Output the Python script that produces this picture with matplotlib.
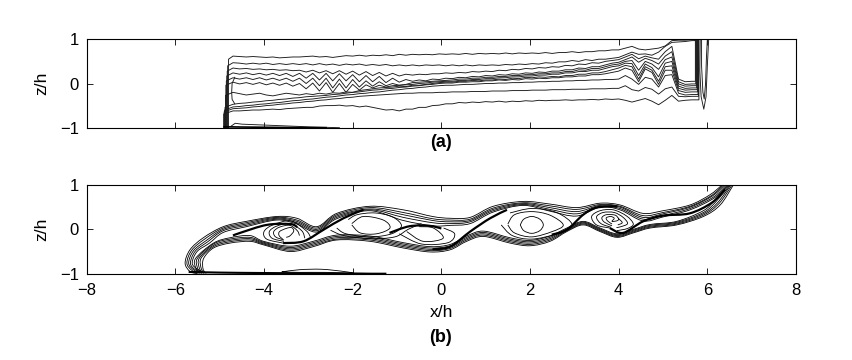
import matplotlib
matplotlib.use("Agg")
import matplotlib.pyplot as plt
import numpy as np
from matplotlib.path import Path
from matplotlib.patches import PathPatch

plt.rcParams['font.family'] = ['Liberation Sans', 'DejaVu Sans']

xticks = [-8, -6, -4, -2, 0, 2, 4, 6, 8]
zticks = [-1, 0, 1]

# Panel (a): contour heights in hundredths of h, read at x = -4.7, -4.55, ... 5.65
a_x = np.linspace(-4.7, 5.65, 70)
a1 = [62,61,60,61,60,59,60,58,59,60, 60,61,62,60,61,59,61,63,62,64, 62,64,63,65,63,66,64,66,65,66,
      65,67,66,67,66,68,66,68,67,68, 67,69,67,69,68,69,68,70,68,70, 70,72,70,72,72,74,74,76,
      76,80,84,78,76,78,80,85,97,98,98,99]
a2 = [47,46,44,46,44,46,43,45,43,45, 43,45,42,45,42,44,41,44,42,44, 41,43,41,43,40,42,40,42,40,42,
      41,42,40,42,40,42,40,42,41,42, 41,43,42,44,43,45,44,47,46,49, 49,52,50,54,52,55,55,57,
      59,65,71,66,67,64,71,84,93,94,95,97]
a3 = [35,33,34,32,33,31,32,30,31,29, 30,26,30,24,29,22,29,21,28,19, 27,18,25,17,23,17,21,19,21,20,
      22,22,24,23,25,24,27,26,28,27, 30,29,32,31,34,33,36,35,38,37, 41,40,44,43,47,46,50,52,
      54,60,66,56,62,58,55,72,84,10,4,5]
a4 = [24,21,24,20,23,19,23,18,23,16, 23,12,23,8,23,6,22,6,20,4, 18,4,16,2,12,3,9,5,8,6,
      10,9,12,11,14,13,16,15,18,17, 20,19,22,21,24,23,26,25,28,28, 31,31,35,34,38,38,42,46,
      48,54,60,48,57,52,44,62,72,4,-2,-1]
a5 = [13,10,13,9,13,8,12,7,12,5, 12,0,12,-5,12,-10,10,-10,9,-8, 6,-6,4,-5,0,-4,-2,2,3,4,
      5,6,7,8,10,10,12,12,14,14, 16,16,18,18,20,20,22,22,24,24, 27,27,31,30,34,34,38,42,
      44,50,52,30,50,44,32,54,60,-1,-6,-5]
a6 = [3,-1,2,-2,2,-3,1,-4,1,-6, 0,-12,1,-17,2,-20,0,-20,-2,-15, -3,-10,-4,-8,-5,-4,-3,-2,0,1,
      3,4,5,5,7,7,9,9,11,11, 13,13,15,15,17,17,19,19,21,21, 24,24,27,27,30,30,34,38,
      40,46,45,18,44,36,15,46,50,-6,-11,-10]
a7 = [-20,-23,-26,-24,-22,-26,-28,-25,-22,-24, -26,-23,-25,-22,-24,-21,-22,-19,-20,-16, -14,-12,-10,-9,-8,-6,-7,-4,-4,-2,
      0,2,3,3,5,5,7,6,8,8, 10,9,12,11,14,13,15,14,16,15, 18,18,21,21,24,24,27,31,
      35,41,38,10,38,30,5,38,40,-11,-15,-14]
a8 = [-47,-45,-44,-42,-41,-39,-38,-36,-35,-33, -32,-30,-29,-28,-27,-25,-24,-22,-20,-19, -17,-15,-14,-12,-11,-9,-8,-6,-5,-3,
      -2,0,1,1,3,3,4,4,6,6, 8,7,9,8,11,10,12,11,13,13, 15,15,17,17,20,20,22,25,
      28,35,30,4,33,25,-2,30,30,-16,-20,-19]
a9 = [-53,-52,-50,-49,-47,-46,-44,-43,-41,-39, -38,-36,-35,-33,-31,-30,-28,-26,-25,-23, -22,-20,-19,-17,-15,-14,-12,-11,-9,-8,
      -6,-5,-4,-4,-3,-2,-2,-1,0,0, 1,1,2,2,3,3,4,4,5,5, 6,6,7,7,8,8,9,9,
      10,18,10,-2,14,10,-8,18,20,-22,-26,-25]
a10 = [-57,-56,-55,-53,-52,-50,-49,-47,-46,-44, -43,-41,-40,-38,-37,-35,-34,-32,-31,-29, -28,-27,-26,-25,-24,-23,-22,-22,-21,-21,
       -21,-20,-20,-19,-19,-19,-18,-18,-18,-17, -17,-17,-16,-16,-16,-15,-15,-15,-14,-14, -14,-13,-13,-13,-12,-12,-12,-11,
       -11,-5,-14,-17,-9,-13,-24,-12,-8,-29,-30,-29]
a11 = [-62,-62,-61,-60,-60,-59,-58,-59,-57,-56, -55,-54,-54,-51,-50,-50,-49,-51,-50,-53, -51,-54,-57,-60,-59,-62,-58,-58,-54,-54,
       -50,-49,-46,-46,-43,-44,-42,-43,-41,-42, -40,-42,-40,-41,-39,-40,-38,-39,-38,-38, -37,-38,-37,-37,-36,-37,-35,-36,
       -35,-38,-42,-38,-34,-40,-48,-38,-27,-40,-38,-37]
a_lines = [a1, a2, a3, a4, a5, a6, a7, a8, a9, a10, a11]
a_left_wall = [-4.80, -4.82, -4.83, -4.84, -4.85, -4.86, -4.87, -4.88, -4.89, -4.90, -4.91]
a_right_wall = [5.70, 5.72, 5.73, 5.74, 5.75, 5.76, 5.77, 5.78, 5.79, 5.80, 5.81]

a_loop1_x = [5.84, 5.83, 5.86, 5.92, 5.97, 6.00, 6.03]
a_loop1_z = [1.0, 0.3, -0.3, -0.58, -0.3, 0.4, 1.0]
a_loop2_x = [5.87, 5.87, 5.90, 5.93, 5.96, 5.98, 6.00]
a_loop2_z = [1.0, 0.4, -0.2, -0.35, 0.0, 0.6, 1.0]
a_inner_x = [-4.66, -4.72, -4.73, -4.72, -4.66]
a_inner_z = [0.14, 0.0, -0.2, -0.36, -0.46]
a_floor_x = [-4.9, -4.5, -4.0, -3.5, -3.0, -2.6]
a_floor_z = [-0.98, -0.985, -0.99, -0.995, -1.0, -1.0]
a_low_x = [-4.75, -4.65, -4.5, -4.0, -3.0, -2.3]
a_low_z = [-0.97, -0.9, -0.92, -0.94, -0.98, -1.0]

# Panel (b): upper family of the band, from the floor round the left tip to the top edge
t_knots = [-4.92, -4.4, -3.71, -3.26, -2.81, -2.36, -1.61, -0.86, -0.2, 0.2, 0.65, 1.17,
           1.85, 2.45, 3.05, 3.58, 4.03, 4.55, 5.0, 5.61]
t1_x = [-5.5, -5.67, -5.78, -5.67, -5.37, *t_knots, 6.06, 6.32]
t1_z = [-1.0, -0.95, -0.76, -0.46, -0.19, .06,.18,.29,.25,.06,.36,.52,.44,.29,.25,.27,.52,.63,.57,.49,.59,.55,.36,.42,.55, .78, .99]
t2_x = [-5.45, -5.62, -5.74, -5.63, -5.34, *t_knots, 6.09, 6.35]
t2_z = [-0.99, -0.93, -0.76, -0.47, -0.22, .03,.15,.27,.21,.03,.33,.49,.38,.24,.21,.23,.48,.6,.53,.45,.56,.52,.31,.38,.52, .76, .99]
t3_x = [-5.4, -5.58, -5.7, -5.59, -5.3, *t_knots, 6.11, 6.38]
t3_z = [-0.99, -0.92, -0.76, -0.48, -0.25, 0,.12,.25,.18,0,.3,.46,.33,.2,.17,.2,.45,.58,.49,.4,.54,.5,.27,.35,.5, .75, .99]
t4_x = [-5.35, -5.55, -5.66, -5.55, -5.27, *t_knots, 6.14, 6.42]
t4_z = [-0.99, -0.91, -0.76, -0.49, -0.28, -.03,.09,.23,.15,-.03,.27,.44,.27,.15,.13,.17,.42,.56,.45,.35,.52,.47,.23,.31,.47, .73, .99]
t5_x = [-5.3, -5.5, -5.62, -5.51, -5.23, *t_knots, 6.16, 6.45]
t5_z = [-0.99, -0.9, -0.76, -0.5, -0.31, -.07,.06,.21,.12,-.06,.24,.42,.2,.08,.09,.13,.39,.54,.41,.3,.5,.44,.19,.28,.44, .71, .99]

# Lower family of the band
b_knots = [-5.14, -4.77, -4.32, -4.01, -3.41, -2.89, -2.36, -1.61, -0.86, -0.25, 0.2, 0.57,
           0.95, 1.55, 2.0, 2.45, 2.83, 3.2, 3.58, 3.96, 4.33, 4.71, 5.31, 5.91]
b1_x = [-5.33, -5.38, -5.36, *b_knots, 6.29, 6.58]
b1_z = [-.98, -.87, -.65, -.42,-.31,-.27,-.35,-.5,-.39,-.24,-.27,-.42,-.51,-.46,-.27,-.16,-.31,-.37,-.27,-.05,.1,-.05,-.18,-.08,.03,.1,.29, .55, .99]
b2_x = [-5.36, -5.42, -5.42, *b_knots, 6.26, 6.55]
b2_z = [-.98, -.87, -.65, -.39,-.28,-.24,-.33,-.47,-.36,-.22,-.24,-.39,-.48,-.43,-.24,-.13,-.28,-.34,-.24,-.03,.12,-.03,-.16,-.06,.05,.12,.32, .58, .99]
b3_x = [-5.39, -5.46, -5.46, *b_knots, 6.23, 6.52]
b3_z = [-.98, -.87, -.65, -.36,-.25,-.21,-.31,-.44,-.33,-.19,-.21,-.36,-.45,-.4,-.21,-.1,-.25,-.31,-.21,-.01,.14,-.01,-.14,-.04,.07,.14,.35, .6, .99]
b4_x = [-5.42, -5.5, -5.5, *b_knots, 6.2, 6.5]
b4_z = [-.98, -.87, -.65, -.33,-.22,-.18,-.29,-.41,-.3,-.16,-.18,-.33,-.42,-.37,-.18,-.07,-.22,-.28,-.18,.01,.16,.01,-.12,-.02,.09,.16,.38, .63, .99]
b5_x = [-5.45, -5.54, -5.54, *b_knots, 6.17, 6.48]
b5_z = [-.98, -.87, -.65, -.31,-.19,-.14,-.27,-.38,-.27,-.13,-.15,-.3,-.39,-.34,-.15,-.04,-.19,-.25,-.15,.03,.18,.03,-.1,0,.11,.18,.42, .66, .99]

# Spirals and closed contours around the vortices
s1a_x = [-3.57, -3.94, -4.0, -3.8, -3.4, -3.05, -2.95]
s1a_z = [-.31, -.22, -.05, .1, .19, -.03, -.18]
s1b_x = [-3.55, -3.82, -3.88, -3.72, -3.42, -3.15, -3.08]
s1b_z = [-.27, -.2, -.05, .07, .13, -.03, -.2]
s1c_x = [-3.55, -3.74, -3.78, -3.65, -3.42, -3.25, -3.2]
s1c_z = [-.24, -.17, -.05, .05, .09, -.03, -.14]
s1d_x = [-3.58, -3.66, -3.65, -3.5, -3.38, -3.33, -3.42, -3.5]
s1d_z = [-.22, -.14, -.05, .02, .04, -.04, -.15, -.18]
v2a_x = [-2.5, -2.2, -1.61, -1.05, -0.75, -0.45]
v2a_z = [-.02, -.14, -.21, -.17, 0.0, .13]
v2b_x = [-2.36, -2.15, -1.61, -1.12, -0.9, -1.1, -1.5, -1.9, -2.1]
v2b_z = [.03, -.1, -.17, -.1, .08, .28, .37, .33, .22]
v2c_x = [-2.02, -1.83, -1.46, -1.16, -1.31, -1.76, -2.02]
v2c_z = [.1, -.08, -.1, .03, .21, .29, .13]
v3a_x = [-0.78, -0.41, 0.04, -0.18, -0.5]
v3a_z = [-.05, -.27, -.2, .03, .06]
v3b_x = [-0.95, -0.45, 0.15, 0.3, 0.05]
v3b_z = [-.1, -.33, -.3, -.1, .03]
v4a_x = [1.78, 1.86, 2.04, 2.22, 2.3, 2.22, 2.04, 1.86, 1.78]
v4a_z = [.1, -.03, -.09, -.03, .1, .23, .29, .23, .1]
v4b_x = [1.5, 1.65, 2.04, 2.5, 2.75, 2.45, 2.04, 1.65, 1.5]
v4b_z = [.1, -.08, -.17, -.05, .1, .32, .4, .33, .12]
v4c_x = [1.35, 1.6, 2.04, 2.6, 2.95, 2.6, 2.04, 1.55]
v4c_z = [.1, -.14, -.22, -.1, .1, .38, .47, .37]
s5a_x = [3.8, 3.5, 3.39, 3.58, 3.88, 4.18, 4.33, 4.2, 3.96]
s5a_z = [.03, .1, .29, .42, .44, .3, .12, .02, -.03]
s5b_x = [3.82, 3.6, 3.5, 3.65, 3.9, 4.1, 4.2, 4.05, 3.95]
s5b_z = [.05, .13, .28, .38, .38, .27, .13, .06, .04]
s5c_x = [3.85, 3.68, 3.62, 3.72, 3.92, 4.0, 4.08, 3.98]
s5c_z = [.08, .16, .26, .33, .32, .24, .15, .1]
s5d_x = [3.85, 3.75, 3.72, 3.82, 3.9, 3.85, 3.98, 4.0]
s5d_z = [.12, .19, .26, .29, .25, .18, .2, .26]

# Dark braids between the vortices
br1_x = [-4.7, -4.54, -3.94, -3.41, -3.25]
br1_z = [-.14, -.08, .1, .12, .05]
br2_x = [-3.57, -3.11, -2.66, -2.21, -1.76]
br2_z = [-.31, -.27, -.01, .25, .44]
br3_x = [-1.17, -0.72, -0.27, 0.0]
br3_z = [-.08, .07, .08, .02]
br4_x = [-0.2, 0.2, 0.65, 1.1, 1.48]
br4_z = [-.45, -.39, -.05, .25, .44]
br5_x = [2.49, 2.83, 3.2, 3.5, 3.96]
br5_z = [-.12, -.01, .33, .49, .52]
br6_x = [3.8, 4.1, 4.55, 5.0, 5.6, 6.1, 6.4]
br6_z = [.03, -.08, .18, .31, .36, .6, .9]

# Floor of panel (b), with the thin lens above it
b_floor_x = [-5.7, -5.0, -4.0, -3.0, -2.0, -1.6, -1.24]
b_floor_z = [-.96, -.975, -.985, -.99, -.995, -1.0, -1.0]
lens_x = [-3.6, -3.2, -2.7, -2.2, -2.0, -2.6, -3.2, -3.6]
lens_z = [-.96, -.91, -.9, -.95, -.99, -.97, -.97, -.96]

b_thin = [(t1_x, t1_z), (t2_x, t2_z), (t3_x, t3_z), (t4_x, t4_z), (t5_x, t5_z),
          (b1_x, b1_z), (b2_x, b2_z), (b3_x, b3_z), (b4_x, b4_z), (b5_x, b5_z),
          (s1a_x, s1a_z), (s1b_x, s1b_z), (s1c_x, s1c_z), (s1d_x, s1d_z),
          (v2a_x, v2a_z), (v2b_x, v2b_z), (v2c_x, v2c_z), (v3a_x, v3a_z), (v3b_x, v3b_z),
          (v4a_x, v4a_z), (v4b_x, v4b_z), (v4c_x, v4c_z),
          (s5a_x, s5a_z), (s5b_x, s5b_z), (s5c_x, s5c_z), (s5d_x, s5d_z), (lens_x, lens_z)]
b_thick = [(br1_x, br1_z), (br2_x, br2_z), (br3_x, br3_z), (br4_x, br4_z), (br5_x, br5_z), (br6_x, br6_z)]


def smooth_line(axis, xs, zs, width):
    # Cubic segments passing through every read point.
    px = [xs[0], *xs, xs[-1]]
    pz = [zs[0], *zs, zs[-1]]
    verts = [(xs[0], zs[0])]
    codes = [Path.MOVETO]
    for i in range(1, len(px) - 2):
        verts.append((px[i] + (px[i + 1] - px[i - 1]) / 6, pz[i] + (pz[i + 1] - pz[i - 1]) / 6))
        verts.append((px[i + 1] - (px[i + 2] - px[i]) / 6, pz[i + 1] - (pz[i + 2] - pz[i]) / 6))
        verts.append((px[i + 1], pz[i + 1]))
        codes += [Path.CURVE4, Path.CURVE4, Path.CURVE4]
    axis.add_patch(PathPatch(Path(verts, codes), fill=False, edgecolor='black', linewidth=width))


def setup_axis(axis):
    axis.set_xlim(-8, 8)
    axis.set_ylim(-1, 1)
    axis.set_xticks(xticks)
    axis.set_yticks(zticks)
    axis.tick_params(direction='in', top=True, right=True, length=4.5, width=0.6, labelsize=12)
    axis.tick_params(axis='x', pad=7)
    axis.tick_params(axis='y', pad=5.5)
    axis.set_ylabel("z/h", fontsize=12.5)
    axis.yaxis.set_label_coords(-0.053, 0.5)
    for spine in axis.spines.values():
        spine.set_linewidth(0.8)


fig = plt.figure(figsize=(8.52, 3.6), dpi=100)
left = 86.7 / 852
width = 709.3 / 852
ax_a = fig.add_axes([left, 1 - 127.7 / 360, width, 88.4 / 360])
ax_b = fig.add_axes([left, 1 - 273.7 / 360, width, 88.7 / 360])

# Panel (a)
setup_axis(ax_a)
ax_a.set_xticklabels([])
for line, wall_l, wall_r in zip(a_lines, a_left_wall, a_right_wall):
    z = np.array(line) / 100
    xs = np.concatenate([[wall_l, wall_l], a_x, [wall_r, wall_r]])
    zs = np.concatenate([[-1, z[0] - 0.07], z, [z[-1], 1]])
    ax_a.plot(xs, zs, color='#1a1a1a', linewidth=0.65)
ax_a.plot(a_loop1_x, a_loop1_z, color='#1a1a1a', linewidth=0.65)
ax_a.plot(a_loop2_x, a_loop2_z, color='#1a1a1a', linewidth=0.65)
ax_a.plot(a_inner_x, a_inner_z, color='#1a1a1a', linewidth=0.65)
ax_a.plot(a_low_x, a_low_z, color='#1a1a1a', linewidth=0.65)
ax_a.plot(a_floor_x, a_floor_z, color='black', linewidth=1.2)

# Panel (b)
setup_axis(ax_b)
for xs, zs in b_thin:
    smooth_line(ax_b, xs, zs, 0.6)
for xs, zs in b_thick:
    smooth_line(ax_b, xs, zs, 1.6)
smooth_line(ax_b, b_floor_x, b_floor_z, 1.5)
ax_b.set_xlabel("x/h", fontsize=12.5, labelpad=5)

fig.text(441 / 852, 1 - 143 / 360, "(a)", ha='center', va='center', fontsize=13, fontweight='bold')
fig.text(441 / 852, 1 - 338 / 360, "(b)", ha='center', va='center', fontsize=13, fontweight='bold')

plt.savefig("out.png", dpi=100)
